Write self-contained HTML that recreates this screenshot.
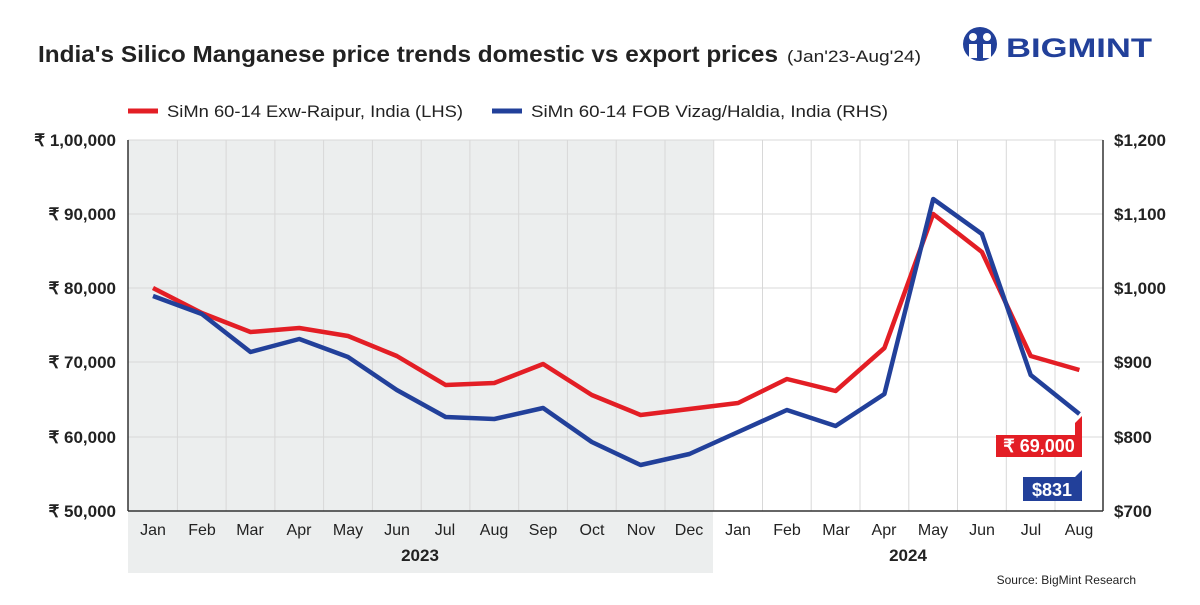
<!DOCTYPE html>
<html><head><meta charset="utf-8"><style>
body{margin:0;background:#fff;width:1200px;height:600px;overflow:hidden}
svg{font-family:"Liberation Sans",sans-serif}
</style></head><body>
<svg width="1200" height="600" viewBox="0 0 1200 600">
<rect x="128" y="140" width="585" height="433" fill="#eceeee"/>
<g stroke="#d8d8d8" stroke-width="1">
<line x1="128" y1="214" x2="1103" y2="214"/><line x1="128" y1="288" x2="1103" y2="288"/>
<line x1="128" y1="362" x2="1103" y2="362"/><line x1="128" y1="437" x2="1103" y2="437"/>
<line x1="128" y1="140" x2="1103" y2="140"/>
<path d="M177.4 140V511M226.1 140V511M274.9 140V511M323.6 140V511M372.4 140V511M421.2 140V511M469.9 140V511M518.7 140V511M567.4 140V511M616.2 140V511M665 140V511M713.7 140V511M762.5 140V511M811.2 140V511M860 140V511M908.8 140V511M957.5 140V511M1006.3 140V511M1055 140V511"/>
</g>
<g stroke="#333" stroke-width="1.5">
<line x1="128" y1="140" x2="128" y2="511"/><line x1="1103" y1="140" x2="1103" y2="511"/>
<line x1="128" y1="511" x2="1103" y2="511"/>
</g>
<text x="38" y="62" font-size="23" font-weight="bold" fill="#222" textLength="740" lengthAdjust="spacingAndGlyphs">India's Silico Manganese price trends domestic vs export prices</text>
<text x="787" y="62" font-size="17" fill="#222" textLength="134" lengthAdjust="spacingAndGlyphs">(Jan'23-Aug'24)</text>
<g transform="translate(960,28)">
<circle cx="20" cy="16" r="17" fill="#22409a"/>
<circle cx="13" cy="9" r="4" fill="#fff"/><circle cx="27" cy="9" r="4" fill="#fff"/>
<path d="M9 16h8v14h-8zM23 16h8v14h-8z" fill="#fff"/>
<text x="46" y="29" font-size="27" font-weight="bold" fill="#22409a" textLength="146" lengthAdjust="spacingAndGlyphs">BIGMINT</text>
</g>
<line x1="128" y1="111" x2="158" y2="111" stroke="#e31e25" stroke-width="5"/>
<text x="167" y="117" font-size="17" fill="#222" textLength="296" lengthAdjust="spacingAndGlyphs">SiMn 60-14 Exw-Raipur, India (LHS)</text>
<line x1="492" y1="111" x2="522" y2="111" stroke="#22409a" stroke-width="5"/>
<text x="531" y="117" font-size="17" fill="#222" textLength="357" lengthAdjust="spacingAndGlyphs">SiMn 60-14 FOB Vizag/Haldia, India (RHS)</text>
<g font-size="17" font-weight="bold" fill="#222" text-anchor="end">
<text x="116" y="146">₹ 1,00,000</text><text x="116" y="220">₹ 90,000</text><text x="116" y="294">₹ 80,000</text><text x="116" y="368">₹ 70,000</text><text x="116" y="443">₹ 60,000</text><text x="116" y="517">₹ 50,000</text>
</g>
<g font-size="17" font-weight="bold" fill="#222">
<text x="1114" y="146">$1,200</text><text x="1114" y="220">$1,100</text><text x="1114" y="294">$1,000</text><text x="1114" y="368">$900</text><text x="1114" y="443">$800</text><text x="1114" y="517">$700</text>
</g>
<g font-size="16" fill="#222" text-anchor="middle">
<text x="153" y="535">Jan</text><text x="202" y="535">Feb</text><text x="250" y="535">Mar</text><text x="299" y="535">Apr</text><text x="348" y="535">May</text><text x="397" y="535">Jun</text><text x="445" y="535">Jul</text><text x="494" y="535">Aug</text><text x="543" y="535">Sep</text><text x="592" y="535">Oct</text><text x="641" y="535">Nov</text><text x="689" y="535">Dec</text><text x="738" y="535">Jan</text><text x="787" y="535">Feb</text><text x="836" y="535">Mar</text><text x="884" y="535">Apr</text><text x="933" y="535">May</text><text x="982" y="535">Jun</text><text x="1031" y="535">Jul</text><text x="1079" y="535">Aug</text>
</g>
<text x="420" y="561" font-size="17" font-weight="bold" fill="#222" text-anchor="middle">2023</text>
<text x="908" y="561" font-size="17" font-weight="bold" fill="#222" text-anchor="middle">2024</text>
<text x="1136" y="584" font-size="12" fill="#222" text-anchor="end">Source: BigMint Research</text>
<polyline fill="none" stroke="#e31e25" stroke-width="4.5" stroke-linejoin="round" points="153,288 201.8,313 250.5,332 299.3,328 348,336 396.8,356 445.6,385 494.3,383 543.1,364 591.8,395 640.6,415 689.4,409 738.1,403 786.9,379 835.6,391 884.4,348 933.2,214 981.9,252 1030.7,356 1079.4,370"/>
<polyline fill="none" stroke="#22409a" stroke-width="4.5" stroke-linejoin="round" points="153,296 201.8,314 250.5,352 299.3,339 348,357 396.8,390 445.6,417 494.3,419 543.1,408 591.8,442 640.6,465 689.4,454 738.1,432 786.9,410 835.6,426 884.4,394 933.2,199 981.9,234 1030.7,375 1079.4,414"/>
<path d="M996 435H1075V423L1082 423L1082 457H996Z" fill="#e31e25"/>
<path d="M1075 423L1082 416V423Z" fill="#e31e25"/>
<text x="1039" y="452" font-size="18" font-weight="bold" fill="#fff" text-anchor="middle">₹ 69,000</text>
<path d="M1023 477H1075L1082 470V501H1023Z" fill="#22409a"/>
<text x="1052" y="496" font-size="18" font-weight="bold" fill="#fff" text-anchor="middle">$831</text>
</svg>
</body></html>
